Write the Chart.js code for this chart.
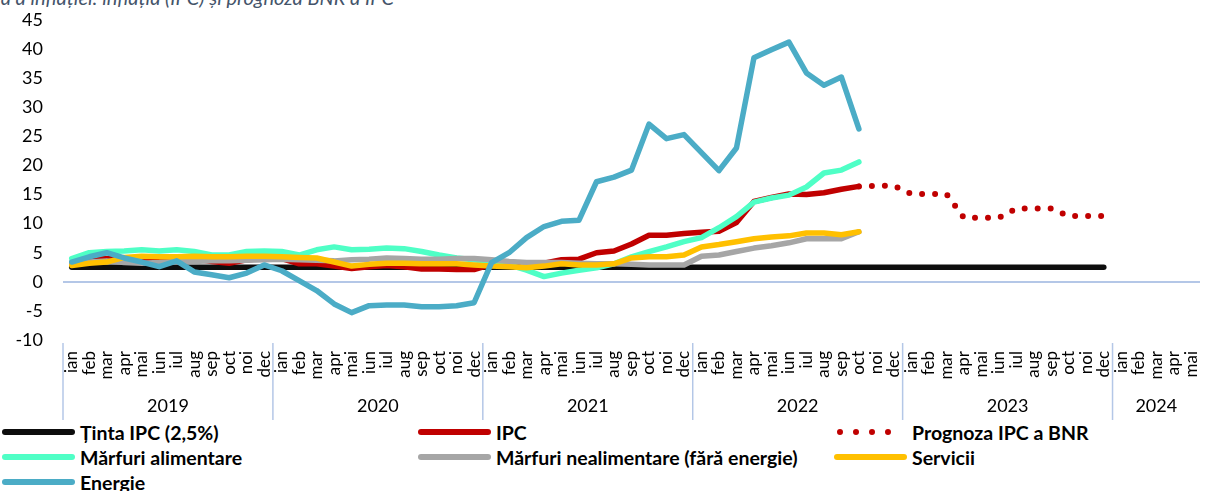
<!DOCTYPE html>
<html>
<head>
<meta charset="utf-8">
<script src="https://cdn.jsdelivr.net/npm/chart.js@4.4.0/dist/chart.umd.min.js"></script>
<style>
    body { margin: 0; background: #fff; width: 1206px; height: 491px; overflow: hidden; position: relative; font-family: Lato, sans-serif; }
    #titlu { position: absolute; right: 812px; top: -15px; line-height: 24px; white-space: nowrap; font-style: italic; font-size: 20px; color: #44546A; }
    #grafic { position: absolute; left: 0; top: 0; }
    .leg { position: absolute; height: 20px; display: flex; align-items: center; font-weight: bold; font-size: 19.5px; color: #000; white-space: nowrap; }
    .leg canvas { margin-right: 4px; }
</style>
</head>
<body>
<div id="titlu">Rata anuală a inflației: inflația (IPC) și prognoza BNR a IPC</div>
<canvas id="grafic" width="1206" height="420"></canvas>
<div id="legenda"></div>
<script>
// categorii
const luni = ['ian', 'feb', 'mar', 'apr', 'mai', 'iun', 'iul', 'aug', 'sep', 'oct', 'noi', 'dec'];
const ani = ['2019', '2020', '2021', '2022', '2023', '2024'];
const luniPeAn = [12, 12, 12, 12, 12, 5];

// valori (%), ian 2019 - oct 2022
const tinta = [
    2.5, 2.5, 2.5, 2.5, 2.5, 2.5, 2.5, 2.5, 2.5, 2.5, 2.5, 2.5,
    2.5, 2.5, 2.5, 2.5, 2.5, 2.5, 2.5, 2.5, 2.5, 2.5, 2.5, 2.5,
    2.5, 2.5, 2.5, 2.5, 2.5, 2.5, 2.5, 2.5, 2.5, 2.5, 2.5, 2.5,
    2.5, 2.5, 2.5, 2.5, 2.5, 2.5, 2.5, 2.5, 2.5, 2.5, 2.5, 2.5,
    2.5, 2.5, 2.5, 2.5, 2.5, 2.5, 2.5, 2.5, 2.5, 2.5, 2.5, 2.5
];
const ipc = [
    3.3, 3.8, 4.0, 4.1, 4.1, 3.8, 4.1, 3.9, 3.5, 3.2, 3.8, 4.0,
    4.0, 3.1, 3.1, 2.7, 2.3, 2.6, 2.8, 2.6, 2.2, 2.2, 2.1, 2.1,
    3.0, 3.2, 3.1, 3.2, 3.8, 3.9, 5.0, 5.3, 6.5, 8.0, 8.0, 8.3,
    8.5, 8.7, 10.2, 13.8, 14.5, 15.1, 15.0, 15.3, 15.9, 16.4
];
// prognoza BNR, oct 2022 - dec 2023
const prognoza = [16.4, 16.5, 16.5, 15.1, 15.1, 15.1, 11.0, 11.0, 11.0, 12.6, 12.6, 12.6, 11.3, 11.3, 11.3];
const alimentare = [
    4.0, 5.0, 5.2, 5.3, 5.5, 5.3, 5.5, 5.2, 4.6, 4.6, 5.2, 5.3,
    5.2, 4.6, 5.5, 6.0, 5.5, 5.6, 5.8, 5.7, 5.2, 4.6, 4.1, 3.8,
    3.4, 2.9, 2.0, 0.9, 1.5, 2.0, 2.4, 3.1, 4.3, 5.2, 6.0, 6.9,
    7.6, 9.3, 11.2, 13.7, 14.4, 14.9, 16.3, 18.7, 19.2, 20.6
];
const nealimentare = [
    3.2, 3.4, 3.6, 3.3, 3.2, 3.3, 3.5, 3.5, 3.6, 3.6, 3.7, 3.8,
    3.9, 3.8, 3.7, 3.6, 3.8, 3.9, 4.1, 4.0, 3.9, 3.9, 4.0, 4.0,
    3.8, 3.5, 3.3, 3.3, 3.3, 3.2, 3.1, 3.1, 3.0, 2.9, 2.9, 2.9,
    4.4, 4.6, 5.2, 5.8, 6.2, 6.7, 7.4, 7.4, 7.4, 8.6
];
const servicii = [
    2.8, 3.2, 3.4, 4.2, 4.4, 4.3, 4.3, 4.4, 4.3, 4.3, 4.4, 4.4,
    4.3, 4.2, 4.1, 3.4, 2.7, 3.0, 3.2, 3.2, 3.1, 3.1, 3.1, 2.9,
    2.7, 2.6, 2.4, 2.7, 3.1, 2.9, 2.9, 3.1, 4.1, 4.3, 4.3, 4.6,
    6.0, 6.4, 6.9, 7.4, 7.7, 7.9, 8.4, 8.4, 8.1, 8.6
];
const energie = [
    3.4, 4.3, 5.0, 4.1, 3.4, 2.6, 3.6, 1.7, 1.2, 0.7, 1.5, 2.9,
    1.9, 0.2, -1.5, -3.8, -5.3, -4.1, -4.0, -4.0, -4.3, -4.3, -4.1, -3.6,
    3.3, 5.0, 7.6, 9.5, 10.4, 10.6, 17.2, 18.0, 19.2, 27.1, 24.6, 25.3,
    22.2, 19.1, 23.0, 38.5, 39.9, 41.2, 35.9, 33.8, 35.2, 26.3
];

const culori = {
    negru: '#0d0d0d',
    rosu: '#C00000',
    verde: '#4FFFC6',
    gri: '#A6A6A6',
    galben: '#FFC000',
    albastru: '#4BACC6',
    axa: '#B4C7E7'
};

const categorii = [];
ani.forEach((an, i) => {
    for (let m = 0; m < luniPeAn[i]; m++) categorii.push(luni[m]);
});
const n = categorii.length;

function completeaza(valori, start) {
    const rez = new Array(n).fill(null);
    valori.forEach((v, i) => { rez[start + i] = v; });
    return rez;
}

function serie(label, data, color, order, extra) {
    return Object.assign({
        label: label,
        data: data,
        borderColor: color,
        backgroundColor: color,
        borderWidth: 5.5,
        pointRadius: 0,
        tension: 0,
        fill: false,
        order: order,
        borderCapStyle: 'round',
        borderJoinStyle: 'round'
    }, extra || {});
}

const seturi = [
    serie('Ținta IPC (2,5%)', completeaza(tinta, 0), culori.negru, 7),
    serie('IPC', completeaza(ipc, 0), culori.rosu, 6),
    serie('Prognoza IPC a BNR', completeaza(prognoza, 45), culori.rosu, 5, { borderDash: [0, 13], borderWidth: 6 }),
    serie('Mărfuri alimentare', completeaza(alimentare, 0), culori.verde, 4),
    serie('Mărfuri nealimentare (fără energie)', completeaza(nealimentare, 0), culori.gri, 3),
    serie('Servicii', completeaza(servicii, 0), culori.galben, 2),
    serie('Energie', completeaza(energie, 0), culori.albastru, 1)
];

// anii sub etichetele lunilor + separatoare
const aniPlugin = {
    id: 'ani',
    afterDraw(chart) {
        const sx = chart.scales.x;
        const c = chart.ctx;
        const pas = sx.getPixelForValue(1) - sx.getPixelForValue(0);
        const jos = chart.chartArea.bottom;
        c.save();
        c.strokeStyle = culori.axa;
        c.lineWidth = 1.5;
        c.fillStyle = '#000';
        c.font = '18px Lato';
        c.textAlign = 'center';
        c.textBaseline = 'middle';
        let idx = 0;
        ani.forEach((an, i) => {
            const x0 = sx.getPixelForValue(idx) - pas / 2;
            const x1 = sx.getPixelForValue(idx + luniPeAn[i] - 1) + pas / 2;
            c.beginPath();
            c.moveTo(x0, jos + 3);
            c.lineTo(x0, jos + 80);
            c.stroke();
            c.fillText(an, (x0 + x1) / 2, jos + 66);
            idx += luniPeAn[i];
        });
        c.restore();
    }
};

const grafic = new Chart(document.getElementById('grafic'), {
    type: 'line',
    data: { labels: categorii, datasets: seturi },
    options: {
        responsive: false,
        animation: false,
        layout: { padding: { top: 20, right: 6, left: 0, bottom: 0 } },
        plugins: {
            legend: { display: false },
            tooltip: { enabled: false }
        },
        scales: {
            x: {
                offset: true,
                grid: { display: false, offset: true },
                border: { display: false },
                ticks: {
                    autoSkip: false,
                    minRotation: 90,
                    maxRotation: 90,
                    padding: 3,
                    color: '#000',
                    font: { family: 'Lato', size: 17 }
                },
                afterFit: s => {
                    s.height = 80;
                    s.paddingLeft = 0;
                    s.paddingRight = 0;
                    s.paddingTop = 0;
                    s.paddingBottom = 0;
                }
            },
            y: {
                min: -10,
                max: 45,
                border: { display: false },
                grid: {
                    drawTicks: false,
                    lineWidth: 2,
                    color: c => c.tick.value === 0 ? culori.axa : 'rgba(0,0,0,0)'
                },
                ticks: {
                    stepSize: 5,
                    padding: 20,
                    color: '#000',
                    font: { family: 'Lato', size: 18 }
                },
                afterFit: s => {
                    s.width = 63;
                    s.paddingLeft = 0;
                    s.paddingRight = 0;
                    s.paddingTop = 0;
                    s.paddingBottom = 0;
                }
            }
        }
    },
    plugins: [aniPlugin]
});

// legenda in 3 coloane
const pozitii = [
    [0, 422], [416, 422], [832, 422],
    [0, 447], [416, 447], [832, 447],
    [0, 472]
];
const legenda = document.getElementById('legenda');
seturi.forEach((ds, i) => {
    const el = document.createElement('div');
    el.className = 'leg';
    el.style.left = pozitii[i][0] + 'px';
    el.style.top = pozitii[i][1] + 'px';
    const mostra = document.createElement('canvas');
    mostra.width = 76;
    mostra.height = 12;
    const c = mostra.getContext('2d');
    c.strokeStyle = ds.borderColor;
    c.lineCap = 'round';
    c.lineWidth = 6;
    if (ds.borderDash) c.setLineDash([0, 16]);
    c.beginPath();
    c.moveTo(ds.borderDash ? 8 : 5, 6);
    c.lineTo(72, 6);
    c.stroke();
    el.appendChild(mostra);
    const t = document.createElement('span');
    t.textContent = ds.label;
    el.appendChild(t);
    legenda.appendChild(el);
});
</script>
</body>
</html>
